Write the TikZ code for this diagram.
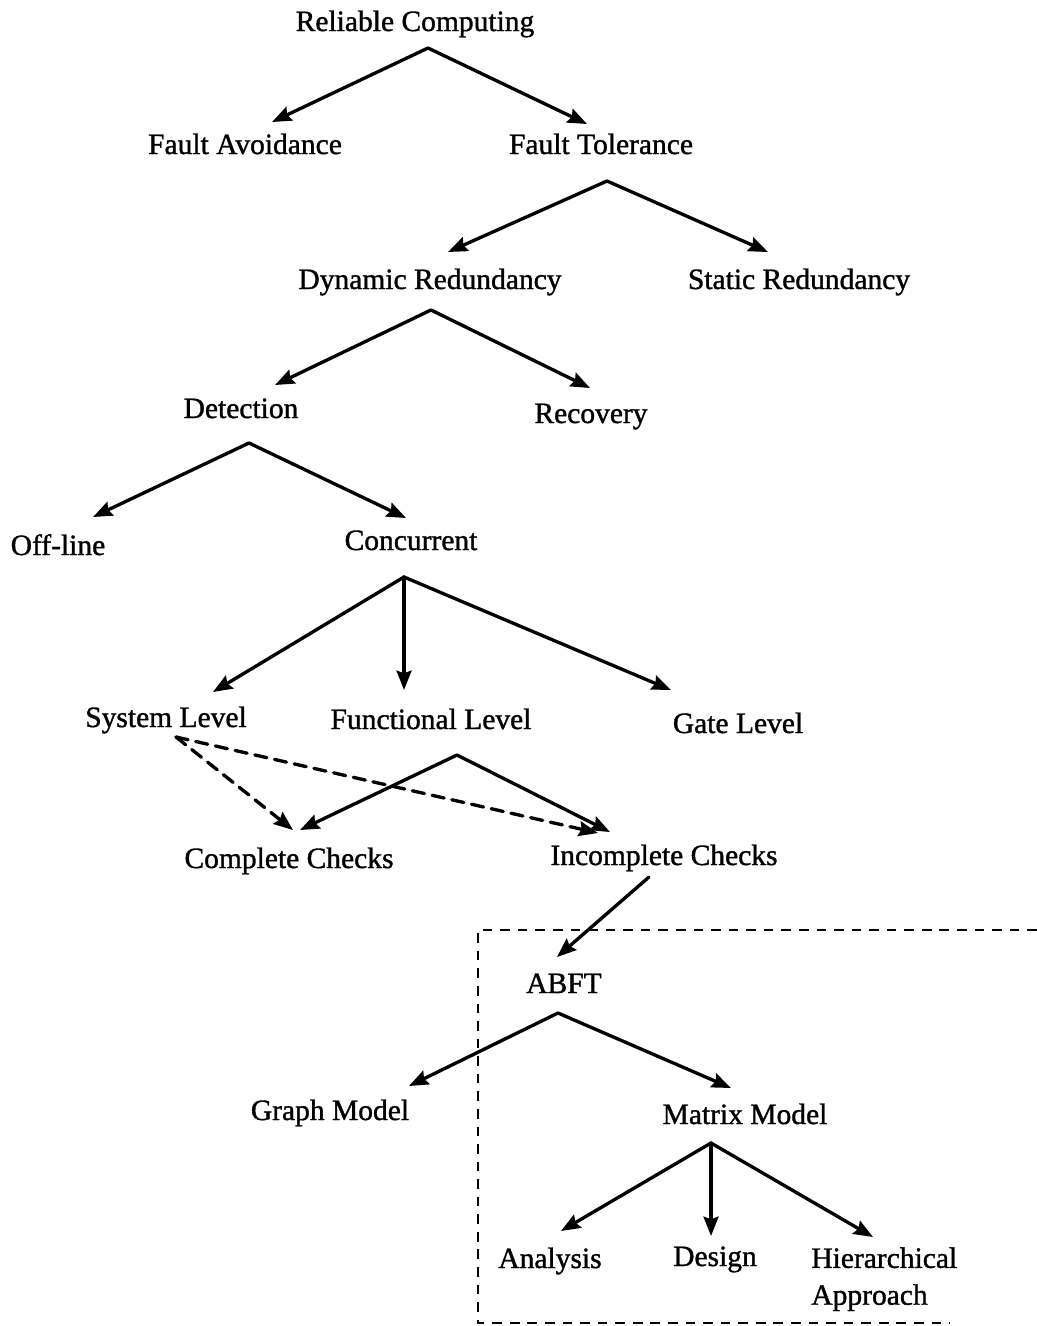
\documentclass[tikz,border=0pt]{standalone}
\usepackage{fontspec}
\setmainfont{Liberation Serif}[FakeBold=1.2]
\usetikzlibrary{arrows.meta}
\begin{document}
\begin{tikzpicture}[x=0.02cm,y=-0.02cm,
  lbl/.style={inner sep=0pt, anchor=base, font=\fontsize{16.8}{21}\selectfont},
  arr/.style={line width=1.9pt, line cap=round, -{Stealth[length=11pt,width=8.5pt,inset=1.5pt]}},
  darr/.style={arr, dash pattern=on 7pt off 4.5pt},
  frame/.style={line width=1.6pt, dash pattern=on 5.5pt off 4.5pt}]
\useasboundingbox (0,0) rectangle (1037,1326);

% labels
\node[lbl] (rc)   at (415,31)   {Reliable Computing};
\node[lbl] (fa)   at (245,154)  {Fault Avoidance};
\node[lbl] (ft)   at (601,154)  {Fault Tolerance};
\node[lbl] (dr)   at (430,289)  {Dynamic Redundancy};
\node[lbl] (sr)   at (799,289)  {Static Redundancy};
\node[lbl] (det)  at (241,418)  {Detection};
\node[lbl] (rec)  at (591,423)  {Recovery};
\node[lbl] (off)  at (58,555)   {Off-line};
\node[lbl] (conc) at (411,550)  {Concurrent};
\node[lbl] (sys)  at (166,727)  {System Level};
\node[lbl] (func) at (431,729)  {Functional Level};
\node[lbl] (gate) at (738,733)  {Gate Level};
\node[lbl] (cc)   at (289,868)  {Complete Checks};
\node[lbl] (ic)   at (664,865)  {Incomplete Checks};
\node[lbl] (abft) at (564,993)  {ABFT};
\node[lbl] (gm)   at (330,1120) {Graph Model};
\node[lbl] (mm)   at (745,1124) {Matrix Model};
\node[lbl] (ana)  at (550,1268) {Analysis};
\node[lbl] (des)  at (715,1266) {Design};
\node[lbl, anchor=north west, align=left] (hier) at (811,1247) {Hierarchical\\Approach};

% branch points below the parents
\coordinate (rc-o)   at (428,48);
\coordinate (ft-o)   at (607,181);
\coordinate (dr-o)   at (431,310);
\coordinate (det-o)  at (249,443);
\coordinate (conc-o) at (404,577);
\coordinate (func-o) at (457,755);
\coordinate (sys-o)  at (176,737);
\coordinate (ic-o)   at (649,877);
\coordinate (abft-o) at (558,1013);
\coordinate (mm-o)   at (711,1143);

% arrow tips above the children
\coordinate (fa-i)   at (272,122);
\coordinate (ft-i)   at (587,124);
\coordinate (dr-i)   at (448,252);
\coordinate (sr-i)   at (768,252);
\coordinate (det-i)  at (275,385);
\coordinate (rec-i)  at (590,388);
\coordinate (off-i)  at (93,517);
\coordinate (conc-i) at (406,518);
\coordinate (sys-i)  at (213,692);
\coordinate (func-i) at (404,690);
\coordinate (gate-i) at (671,690);
\coordinate (cc-i)   at (300,830);
\coordinate (ic-i)   at (610,832);
\coordinate (cc-d)   at (293,830);
\coordinate (ic-d)   at (598,833);
\coordinate (abft-i) at (557,957);
\coordinate (gm-i)   at (409,1086);
\coordinate (mm-i)   at (731,1088);
\coordinate (ana-i)  at (561,1231);
\coordinate (des-i)  at (711,1236);
\coordinate (hier-i) at (873,1237);

% tree edges
\draw[arr] (rc-o) -- (fa-i);
\draw[arr] (rc-o) -- (ft-i);
\draw[arr] (ft-o) -- (dr-i);
\draw[arr] (ft-o) -- (sr-i);
\draw[arr] (dr-o) -- (det-i);
\draw[arr] (dr-o) -- (rec-i);
\draw[arr] (det-o) -- (off-i);
\draw[arr] (det-o) -- (conc-i);
\draw[arr] (conc-o) -- (sys-i);
\draw[arr] (conc-o) -- (func-i);
\draw[arr] (conc-o) -- (gate-i);
\draw[arr] (func-o) -- (cc-i);
\draw[arr] (func-o) -- (ic-i);
\draw[darr] (sys-o) -- (cc-d);
\draw[darr] (sys-o) -- (ic-d);
\draw[arr] (ic-o) -- (abft-i);
\draw[arr] (abft-o) -- (gm-i);
\draw[arr] (abft-o) -- (mm-i);
\draw[arr] (mm-o) -- (ana-i);
\draw[arr] (mm-o) -- (des-i);
\draw[arr] (mm-o) -- (hier-i);

% dashed frame around the ABFT subtree
\coordinate (fr-a) at (1037,930);
\coordinate (fr-b) at (478,930);
\coordinate (fr-c) at (478,1323);
\coordinate (fr-d) at (950,1323);
\draw[frame] (fr-a) -- (fr-b) -- (fr-c) -- (fr-d);
\end{tikzpicture}
\end{document}
